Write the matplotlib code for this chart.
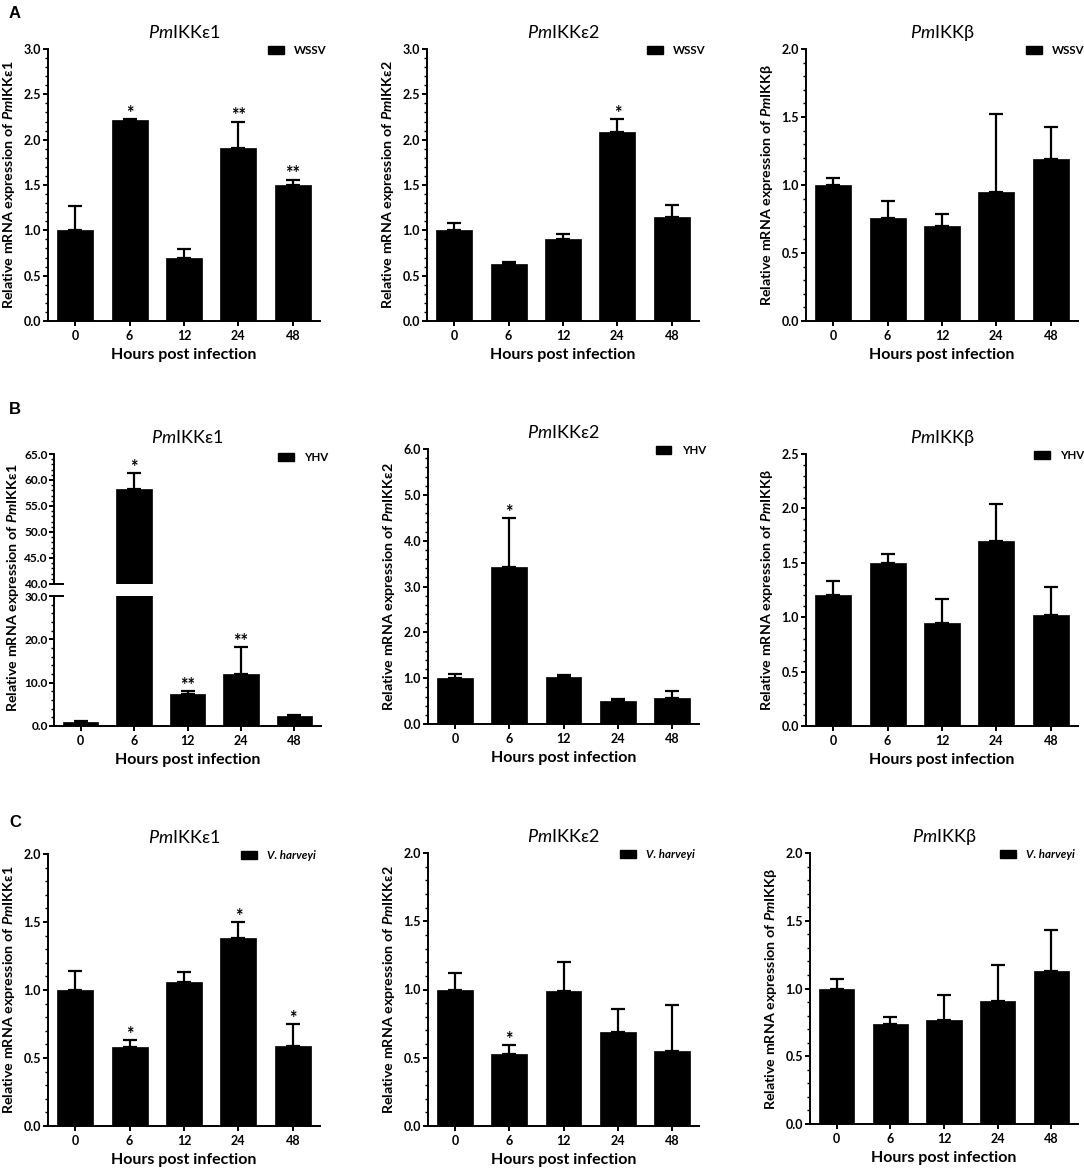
import matplotlib
matplotlib.use("Agg")
import matplotlib.pyplot as plt
from matplotlib.ticker import MultipleLocator, AutoMinorLocator, FormatStrFormatter
from matplotlib.patches import Patch
import numpy as np

plt.rcParams['font.family'] = ['Lato', 'DejaVu Sans']
plt.rcParams['mathtext.fontset'] = 'custom'
plt.rcParams['mathtext.it'] = 'Lato:italic'
plt.rcParams['mathtext.rm'] = 'Lato'
plt.rcParams['mathtext.bf'] = 'Lato:bold'
plt.rcParams['mathtext.bfit'] = 'Lato:italic:bold'

# ---------------- data ----------------
hours = ['0', '6', '12', '24', '48']

wssv_e1 = [1.00, 2.22, 0.69, 1.91, 1.50]
wssv_e1_err = [0.27, 0.01, 0.10, 0.29, 0.06]
wssv_e1_sig = ['', '*', '', '**', '**']

wssv_e2 = [1.00, 0.63, 0.90, 2.08, 1.15]
wssv_e2_err = [0.08, 0.02, 0.06, 0.15, 0.13]
wssv_e2_sig = ['', '', '', '*', '']

wssv_b = [1.00, 0.76, 0.70, 0.95, 1.19]
wssv_b_err = [0.05, 0.12, 0.09, 0.57, 0.24]
wssv_b_sig = ['', '', '', '', '']

yhv_e1 = [1.0, 58.3, 7.5, 12.0, 2.3]
yhv_e1_err = [0.15, 3.0, 0.6, 6.2, 0.16]
yhv_e1_sig = ['', '*', '**', '**', '']

yhv_e2 = [1.00, 3.42, 1.02, 0.50, 0.56]
yhv_e2_err = [0.09, 1.07, 0.05, 0.04, 0.17]
yhv_e2_sig = ['', '*', '', '', '']

yhv_b = [1.20, 1.50, 0.95, 1.70, 1.02]
yhv_b_err = [0.13, 0.08, 0.22, 0.34, 0.26]
yhv_b_sig = ['', '', '', '', '']

vh_e1 = [1.00, 0.58, 1.06, 1.38, 0.59]
vh_e1_err = [0.14, 0.05, 0.07, 0.12, 0.16]
vh_e1_sig = ['', '*', '', '*', '*']

vh_e2 = [1.00, 0.53, 0.99, 0.69, 0.55]
vh_e2_err = [0.12, 0.06, 0.21, 0.17, 0.34]
vh_e2_sig = ['', '*', '', '', '']

vh_b = [1.00, 0.74, 0.77, 0.91, 1.13]
vh_b_err = [0.07, 0.05, 0.18, 0.26, 0.30]
vh_b_sig = ['', '', '', '', '']

genes = [r"$\mathit{Pm}$IKKε1", r"$\mathit{Pm}$IKKε2", r"$\mathit{Pm}$IKKβ"]
ylabels = [r"Relative mRNA expression of $\mathbfit{Pm}$IKKε1",
           r"Relative mRNA expression of $\mathbfit{Pm}$IKKε2",
           r"Relative mRNA expression of $\mathbfit{Pm}$IKKβ"]
xlabel = "Hours post infection"

W, H = 1084, 1175
fig = plt.figure(figsize=(W / 100, H / 100), dpi=100)


def rect(l, t, r, b):
    return [l / W, 1 - b / H, (r - l) / W, (b - t) / H]


LW = 1.4
TICKFS = 9
XLABFS = 11.5
YLABFS = 10.3


def style_axis(ax, ymax, step, fmt='%.1f'):
    ax.set_ylim(0, ymax)
    ax.yaxis.set_major_locator(MultipleLocator(step))
    ax.yaxis.set_minor_locator(AutoMinorLocator(5))
    ax.yaxis.set_major_formatter(FormatStrFormatter(fmt))
    for s in ['top', 'right']:
        ax.spines[s].set_visible(False)
    for s in ['left', 'bottom']:
        ax.spines[s].set_linewidth(LW)
    ax.tick_params(axis='both', which='major', direction='out', length=3.5, width=LW,
                   labelsize=TICKFS)
    ax.tick_params(axis='y', which='major', pad=1.5)
    ax.tick_params(axis='x', which='major', pad=3)
    ax.tick_params(axis='y', which='minor', direction='out', length=2.2, width=1.0)
    for lab in ax.get_xticklabels() + ax.get_yticklabels():
        lab.set_fontweight('bold')


def draw_bars(ax, vals, errs, sigs):
    x = np.arange(len(hours))
    ax.bar(x, vals, width=0.66, color='black', edgecolor='black', linewidth=0.5, zorder=2)
    ax.errorbar(x, vals, yerr=[np.zeros(len(vals)), errs], fmt='none', ecolor='black',
                elinewidth=1.6, capsize=5, capthick=1.6, zorder=3)
    for xi, v, e, s in zip(x, vals, errs, sigs):
        if s:
            ax.annotate(s, (xi, v + e), xytext=(0, -2), textcoords='offset points',
                        ha='center', va='bottom', fontsize=13, fontweight='bold')
    ax.set_xlim(-0.5, len(hours) - 0.5)
    ax.set_xticks(x)
    ax.set_xticklabels(hours)


def add_legend(ax, label, xa, italic=False):
    h = Patch(facecolor='black', edgecolor='black')
    leg = ax.legend([h], [label], loc='upper left', bbox_to_anchor=(xa, 1.015),
                    frameon=False, borderpad=0, borderaxespad=0,
                    handlelength=1.35, handleheight=0.7, handletextpad=0.9,
                    prop=dict(size=8.3, weight='bold', style='italic' if italic else 'normal'))
    return leg


def finish(ax, gi, width_px):
    ax.set_xlabel(xlabel, fontsize=XLABFS, fontweight='bold', labelpad=4)
    ax.set_ylabel(ylabels[gi], fontsize=YLABFS, fontweight='bold')
    ax.yaxis.set_label_coords(-31 / width_px, 0.5)


# ---------------- Row A: WSSV ----------------
rowA = [(48, 320), (427, 699), (806, 1078)]
dataA = [(wssv_e1, wssv_e1_err, wssv_e1_sig, 3.0),
         (wssv_e2, wssv_e2_err, wssv_e2_sig, 3.0),
         (wssv_b, wssv_b_err, wssv_b_sig, 2.0)]
for i, ((l, r), (v, e, s, ym)) in enumerate(zip(rowA, dataA)):
    ax = fig.add_axes(rect(l, 49, r, 321))
    draw_bars(ax, v, e, s)
    style_axis(ax, ym, 0.5)
    finish(ax, i, r - l)
    ax.set_title(genes[i], fontsize=13, pad=8)
    add_legend(ax, 'WSSV', 0.81)

# ---------------- Row B: YHV ----------------
# left: broken axis
l, r = 54, 321
ax_up = fig.add_axes(rect(l, 454, r, 584))
ax_lo = fig.add_axes(rect(l, 596, r, 726))
for axx in (ax_up, ax_lo):
    draw_bars(axx, yhv_e1, yhv_e1_err, yhv_e1_sig)
style_axis(ax_lo, 30, 10)
style_axis(ax_up, 65, 5)
ax_up.set_ylim(40, 65)
ax_lo.set_ylim(0, 30)
ax_up.spines['bottom'].set_visible(False)
ax_up.tick_params(axis='x', which='both', bottom=False, labelbottom=False)
for axx in (ax_up, ax_lo):
    axx.tick_params(axis='y', which='major', labelsize=8.6, pad=1)
    for lab in axx.get_yticklabels():
        lab.set_fontweight('bold')
for t in list(ax_lo.texts):
    if t.xy[1] > 30:
        t.remove()
for t in list(ax_up.texts):
    if t.xy[1] < 40:
        t.remove()
ax_lo.set_xlabel(xlabel, fontsize=XLABFS, fontweight='bold', labelpad=4)
fig.text(13 / W, 1 - 588 / H, ylabels[0], rotation=90, ha='center', va='center',
         fontsize=YLABFS, fontweight='bold')
ax_up.set_title(genes[0], fontsize=13, pad=8)
add_legend(ax_up, 'YHV', 0.84)
for axx, yy in ((ax_up, 0), (ax_lo, 1)):
    axx.plot([0.0, 0.035], [yy, yy], transform=axx.transAxes, color='black',
             lw=LW, clip_on=False, zorder=5)

rowB = [(428, 449, 699, 724, yhv_e2, yhv_e2_err, yhv_e2_sig, 6.0, 1.0, 1),
        (806, 454, 1078, 726, yhv_b, yhv_b_err, yhv_b_sig, 2.5, 0.5, 2)]
for (l, t, r, b, v, e, s, ym, st, gi) in rowB:
    ax = fig.add_axes(rect(l, t, r, b))
    draw_bars(ax, v, e, s)
    style_axis(ax, ym, st)
    finish(ax, gi, r - l)
    ax.set_title(genes[gi], fontsize=13, pad=8)
    add_legend(ax, 'YHV', 0.84)

# ---------------- Row C: V. harveyi ----------------
rowC = [(48, 854, 320, 1126, vh_e1, vh_e1_err, vh_e1_sig),
        (428, 853, 699, 1126, vh_e2, vh_e2_err, vh_e2_sig),
        (810, 853, 1078, 1124, vh_b, vh_b_err, vh_b_sig)]
for gi, (l, t, r, b, v, e, s) in enumerate(rowC):
    ax = fig.add_axes(rect(l, t, r, b))
    draw_bars(ax, v, e, s)
    style_axis(ax, 2.0, 0.5)
    finish(ax, gi, r - l)
    ax.set_title(genes[gi], fontsize=13, pad=8)
    add_legend(ax, 'V. harveyi', 0.71, italic=True)

# panel letters
for letter, y in (('A', 6), ('B', 402), ('C', 815)):
    fig.text(9 / W, 1 - y / H, letter, ha='left', va='top', fontsize=12,
             fontweight='bold', family='Liberation Sans')

fig.savefig('out.png', dpi=100, facecolor='white')
